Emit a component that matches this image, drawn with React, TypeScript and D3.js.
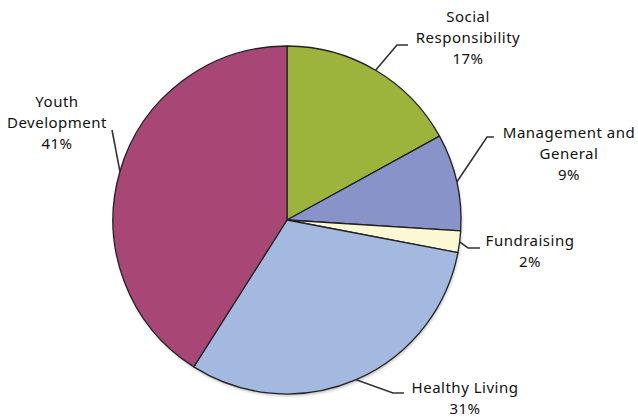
import * as d3 from "d3";
import { useEffect, useRef } from "react";

// slices, clockwise from 12 o'clock
const categories = ["Social Responsibility", "Management and General", "Fundraising", "Healthy Living", "Youth Development"];
const shares = [17, 9, 2, 31, 41];
const labelLines = [
  ["Social", "Responsibility", "17%"],
  ["Management and", "General", "9%"],
  ["Fundraising", "2%"],
  ["Healthy Living", "31%"],
  ["Youth", "Development", "41%"],
];
const colors = ["#9cb43c", "#8793c9", "#fdf8d4", "#a3b9e0", "#a84676"];

// leader elbow / tail and label anchor (x, first baseline)
const layout = [
  { elbow: [397, 45], tail: [408, 45], text: [468, 22] },
  { elbow: [487, 137], tail: [494, 137], text: [569, 138] },
  { elbow: [468, 248], tail: [480, 248], text: [530, 246] },
  { elbow: [393, 393], tail: [404, 393], text: [465, 393] },
  { elbow: [112, 130], tail: [112, 130], text: [57, 107] },
];

export default function App() {
  const ref = useRef<SVGSVGElement>(null);
  const width = 638;
  const height = 417;

  useEffect(() => {
    const svg = d3.select(ref.current);
    svg.selectAll("*").remove();

    const cx = 287;
    const cy = 220;
    const r = 174;

    const defs = svg.append("defs");
    const f = defs.append("filter").attr("id", "shadow").attr("x", "-10%").attr("y", "-10%").attr("width", "120%").attr("height", "120%");
    f.append("feDropShadow").attr("dx", 1).attr("dy", 2).attr("stdDeviation", 1.5).attr("flood-color", "#000").attr("flood-opacity", 0.25);

    const pie = d3.pie<number>().sort(null).value((d) => d);
    const arcs = pie(shares);
    const arc = d3.arc<d3.PieArcDatum<number>>().innerRadius(0).outerRadius(r);

    const g = svg.append("g").attr("transform", `translate(${cx},${cy})`);
    g.append("circle").attr("r", r).attr("fill", "#fff").attr("filter", "url(#shadow)");
    g.selectAll("path.slice")
      .data(arcs)
      .join("path")
      .attr("class", "slice")
      .attr("d", arc)
      .attr("fill", (_, i) => colors[i])
      .attr("stroke", "#222")
      .attr("stroke-width", 1.3)
      .attr("stroke-linejoin", "round");

    // leader lines + labels
    arcs.forEach((a, i) => {
      const mid = (a.startAngle + a.endAngle) / 2;
      const sx = cx + Math.sin(mid) * r;
      const sy = cy - Math.cos(mid) * r;
      const L = layout[i];
      const line = d3.line();
      svg.append("path")
        .attr("d", line([[sx, sy], L.elbow as [number, number], L.tail as [number, number]]))
        .attr("fill", "none")
        .attr("stroke", "#333")
        .attr("stroke-width", 1.6);

      const t = svg.append("text")
        .attr("x", L.text[0])
        .attr("y", L.text[1])
        .attr("text-anchor", "middle")
        .attr("font-family", "'Noto Sans', sans-serif")
        .attr("font-size", 15)
        .attr("letter-spacing", 0.5)
        .attr("fill", "#111");
      labelLines[i].forEach((s, j) => {
        t.append("tspan").attr("x", L.text[0]).attr("dy", j === 0 ? 0 : 21).text(s);
      });
    });
  }, []);

  return (
    <svg ref={ref} width={width} height={height} style={{ position: "absolute", left: 0, top: 0, display: "block" }}>
      <title>{categories.join(", ")}</title>
    </svg>
  );
}
